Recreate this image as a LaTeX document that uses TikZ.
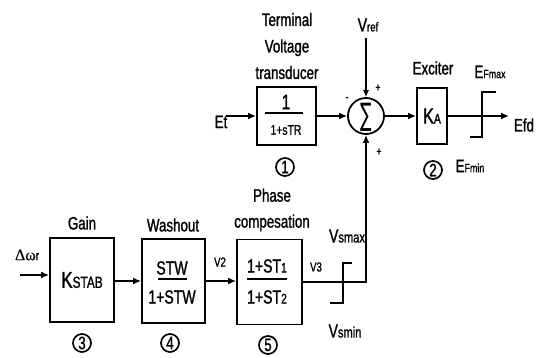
\documentclass[tikz,border=0pt]{standalone}
\usepackage{fontspec}
\setmainfont{Liberation Sans}[FakeStretch=0.74,FakeBold=1.2]
\newfontfamily\serifgr{Liberation Serif}[FakeBold=0.6]
\newfontfamily\dejavu{DejaVu Sans}[FakeStretch=0.55]
\usetikzlibrary{arrows.meta,calc}
\newcommand\fsz[1]{\fontsize{#1}{#1}\selectfont}
\tikzset{
  blk/.style={draw, line width=1.8pt, inner sep=0pt},
  conn/.style={line width=1.8pt, -{Latex[length=8pt,width=7pt]}},
  thinconn/.style={line width=1.3pt, -{Latex[length=7pt,width=6pt]}},
  lim/.style={line width=1.8pt},
  bar/.style={line width=1.6pt},
  lbl/.style={font=\fsz{18}, inner sep=0pt},
  txt/.style={inner sep=0pt},
  num/.style={draw, circle, line width=1.7pt, minimum size=18pt, inner sep=0pt, font=\fsz{18}},
  sgn/.style={inner sep=0pt, font=\fsz{12}},
}
\begin{document}
\begin{tikzpicture}[x=1pt,y=-1pt]
\useasboundingbox (0,0) rectangle (539,358);

% ---------- top row ----------
\node[lbl, align=center, font=\fontsize{18}{26.5}\selectfont] (tvt) at (287,46) {Terminal\\Voltage\\transducer};
\node[blk, minimum width=59pt, minimum height=58pt] (tr) at (286.5,116) {};
\node[txt] (trn) at (286,102) {\fsz{21}1};
\draw[bar] (265,113) -- (303,113);
\node[txt] (trd) at (286,130) {\fsz{14}1+sTR};
\node[num] (n1) at (285,167) {1};

\node[lbl] (etl) at (221,122) {Et};
\coordinate (etc) at (226,116);
\draw[conn] (etc) -- (etc -| tr.west);

\node[draw, circle, line width=1.8pt, minimum size=36pt, inner sep=0pt] (sum) at (366,116) {};
\node[txt] (sig) at (366,117) {\dejavu\fsz{31}∑};
\draw[conn] (tr) -- (sum);

\node[txt] (vref) at (368,25) {\fsz{19}V\fsz{13}ref};
\coordinate (vrefc) at (366,38);
\draw[thinconn] (vrefc) -- (sum);
\node[sgn] (p1) at (378,88) {+};
\node[sgn] (p2) at (379,152) {+};
\node[sgn] (m1) at (347,99) {-};

\node[lbl] (excl) at (433,68) {Exciter};
\node[blk, minimum width=30pt, minimum height=56pt] (exc) at (432,116) {\fsz{22}K\fsz{14}A};
\node[num] (n2) at (433,170) {2};
\draw[conn] (sum) -- (exc);

\coordinate (efdc) at (509,116);
\draw[conn] (exc) -- (efdc);
\node[lbl] (efd) at (524,125) {Efd};
\draw[lim] (470,137) -- (482,137) -- (482,92) -- (496,92);
\node[txt] (efmax) at (490,72) {\fsz{18}E\fsz{12}Fmax};
\node[txt] (efmin) at (470,166) {\fsz{18}E\fsz{12}Fmin};

% ---------- bottom row ----------
\node[txt] (dw) at (27,255) {{\serifgr\fsz{16}Δω}{\fsz{13}r}};
\node[blk, minimum width=64pt, minimum height=84pt] (ks) at (82,280) {\fsz{23}K\fsz{16}STAB};
\coordinate (win) at (20,275);
\draw[conn] (win) -- (win -| ks.west);
\node[lbl] (gain) at (82,223) {Gain};
\node[num] (n3) at (82,343) {3};

\node[blk, minimum width=63pt, minimum height=84pt] (wo) at (173.5,281) {};
\node[lbl] (wol) at (173,225) {Washout};
\node[txt] (won) at (172,268) {\fsz{19}STW};
\draw[bar] (158,279) -- (187,279);
\node[txt] (wod) at (172,297) {\fsz{19}1+STW};
\node[num] (n4) at (170,343) {4};
\draw[conn] (ks.east |- wo) -- (wo);

\node[blk, minimum width=65pt, minimum height=85pt] (ph) at (269.5,282) {};
\node[lbl, align=center, font=\fontsize{18}{26}\selectfont] (phl) at (272,210) {Phase\\compesation};
\node[txt] (phn) at (267,266) {\fsz{19}1+ST\fsz{14}1};
\draw[bar] (247,279) -- (287,279);
\node[txt] (phd) at (267,297) {\fsz{19}1+ST\fsz{14}2};
\node[num] (n5) at (268,345) {5};
\draw[conn] (wo) -- (wo -| ph.west);
\node[txt] (v2) at (220,262) {\fsz{13}V2};

\node[txt] (v3) at (316,267) {\fsz{13}V3};
\draw[conn] (ph) -- (ph -| sum) -- (sum);
\draw[lim] (330,303) -- (343,303) -- (343,263) -- (352,263);
\node[txt] (vsmax) at (347,236) {\fsz{19}V\fsz{15}smax};
\node[txt] (vsmin) at (345,331) {\fsz{19}V\fsz{15}smin};
\end{tikzpicture}
\end{document}
